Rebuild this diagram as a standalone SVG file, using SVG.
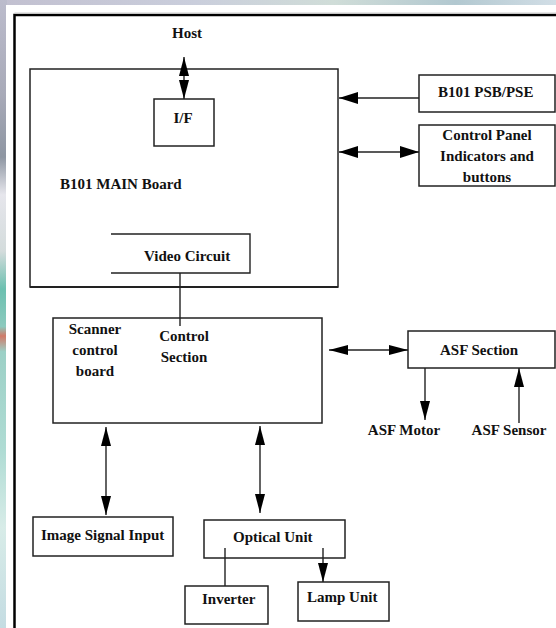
<svg xmlns="http://www.w3.org/2000/svg" width="556" height="628" viewBox="0 0 556 628">
<defs>
<linearGradient id="topbg" x1="0" y1="0" x2="1" y2="0">
<stop offset="0" stop-color="#c2c0d0"/>
<stop offset="0.35" stop-color="#cacedc"/>
<stop offset="0.6" stop-color="#d0ddd8"/>
<stop offset="0.82" stop-color="#b2c8d0"/>
<stop offset="1" stop-color="#d2dee6"/>
</linearGradient>
<linearGradient id="leftbg" x1="0" y1="0" x2="0" y2="1">
<stop offset="0" stop-color="#bcbccc"/>
<stop offset="0.15" stop-color="#a8aab8"/>
<stop offset="0.25" stop-color="#8e96a2"/>
<stop offset="0.31" stop-color="#e6e6ec"/>
<stop offset="0.4" stop-color="#d4dcdc"/>
<stop offset="0.46" stop-color="#6cc0b0"/>
<stop offset="0.52" stop-color="#8ccabe"/>
<stop offset="0.535" stop-color="#d07a68"/>
<stop offset="0.56" stop-color="#9cd0c6"/>
<stop offset="0.72" stop-color="#b0dcd4"/>
<stop offset="0.84" stop-color="#d8ece8"/>
<stop offset="1" stop-color="#c4dce2"/>
</linearGradient>
<marker id="ah" viewBox="0 0 19 10" refX="19" refY="5" markerWidth="19" markerHeight="10" markerUnits="userSpaceOnUse" orient="auto-start-reverse">
<path d="M0,0 L19,5 L0,10 z" fill="#000"/>
</marker>
<marker id="ahb" viewBox="0 0 19 12" refX="19" refY="6" markerWidth="19" markerHeight="12" markerUnits="userSpaceOnUse" orient="auto-start-reverse">
<path d="M0,0 L19,6 L0,12 z" fill="#000"/>
</marker>
</defs>
<style>
text{font-family:"Liberation Serif","Times New Roman",serif;font-weight:bold;font-size:15px;fill:#111;}
.box{fill:#fff;stroke:#222;stroke-width:1.5;}
.ln{fill:none;stroke:#222;stroke-width:1.4;}
.c{text-anchor:middle;}
</style>
<rect x="0" y="0" width="556" height="628" fill="url(#topbg)"/>
<rect x="0" y="0" width="7" height="628" fill="url(#leftbg)"/>
<rect x="6" y="5" width="550" height="623" fill="#fff"/>
<path d="M14.5,628 V15 H556" fill="none" stroke="#000" stroke-width="2.5"/>
<path d="M14.5,13 H556" fill="none" stroke="#ccc" stroke-width="1"/>

<g id="main-board">
<rect class="box" x="30" y="69" width="308" height="218"/>
<path d="M30,287 H338" stroke="#222" stroke-width="2.2"/>
<text x="60" y="189">B101 MAIN Board</text>
</g>
<g id="host"><text class="c" x="187" y="38">Host</text></g>
<g id="if"><rect class="box" x="154" y="99" width="60" height="47"/><text class="c" x="183" y="123">I/F</text></g>
<g id="video-circuit">
<path class="ln" d="M111,234 H250 V273 H111" stroke-width="1.5"/>
<text x="144" y="261">Video Circuit</text>
</g>
<g id="psb"><rect class="box" x="419" y="75" width="136" height="37"/><text x="438" y="97">B101 PSB/PSE</text></g>
<g id="control-panel">
<rect class="box" x="419" y="125" width="136" height="61"/>
<text class="c" x="487" y="140">Control Panel</text>
<text class="c" x="487" y="161">Indicators and</text>
<text class="c" x="487" y="182">buttons</text>
</g>
<g id="scanner">
<rect class="box" x="53" y="318" width="269" height="105"/>
<text class="c" x="95" y="334">Scanner</text>
<text class="c" x="95" y="355">control</text>
<text class="c" x="95" y="376">board</text>
<text class="c" x="184" y="341">Control</text>
<text class="c" x="184" y="362">Section</text>
</g>
<g id="asf-section"><rect class="box" x="408" y="331" width="147" height="37"/><text x="440" y="355">ASF Section</text></g>
<g id="asf-motor"><text class="c" x="404" y="435">ASF Motor</text></g>
<g id="asf-sensor"><text class="c" x="509" y="435">ASF Sensor</text></g>
<g id="image-signal"><rect class="box" x="33" y="517" width="140" height="39"/><text x="41" y="540">Image Signal Input</text></g>
<g id="optical"><rect class="box" x="204" y="520" width="141" height="38"/><text x="233" y="542">Optical Unit</text></g>
<g id="inverter"><rect class="box" x="185" y="586" width="83" height="38"/><text x="202" y="604">Inverter</text></g>
<g id="lamp"><rect class="box" x="298" y="582" width="91" height="39"/><text x="307" y="602">Lamp Unit</text></g>

<g id="connectors">
<line class="ln" x1="184" y1="57" x2="184" y2="99" marker-start="url(#ah)" marker-end="url(#ah)"/>
<line class="ln" x1="419" y1="98" x2="339" y2="98" marker-end="url(#ahb)"/>
<line class="ln" x1="339" y1="152" x2="419" y2="152" marker-start="url(#ahb)" marker-end="url(#ahb)"/>
<line class="ln" x1="180" y1="273" x2="180" y2="326"/>
<line class="ln" x1="329" y1="350" x2="408" y2="350" marker-start="url(#ah)" marker-end="url(#ah)"/>
<line class="ln" x1="425" y1="368" x2="425" y2="420" marker-end="url(#ah)"/>
<line class="ln" x1="519" y1="423" x2="519" y2="368" marker-end="url(#ah)"/>
<line class="ln" x1="106" y1="427" x2="106" y2="515" marker-start="url(#ah)" marker-end="url(#ah)"/>
<line class="ln" x1="260" y1="426" x2="260" y2="513" marker-start="url(#ah)" marker-end="url(#ah)"/>
<line class="ln" x1="225" y1="548" x2="225" y2="586"/>
<line class="ln" x1="323" y1="548" x2="323" y2="582" marker-end="url(#ah)"/>
</g>
</svg>
